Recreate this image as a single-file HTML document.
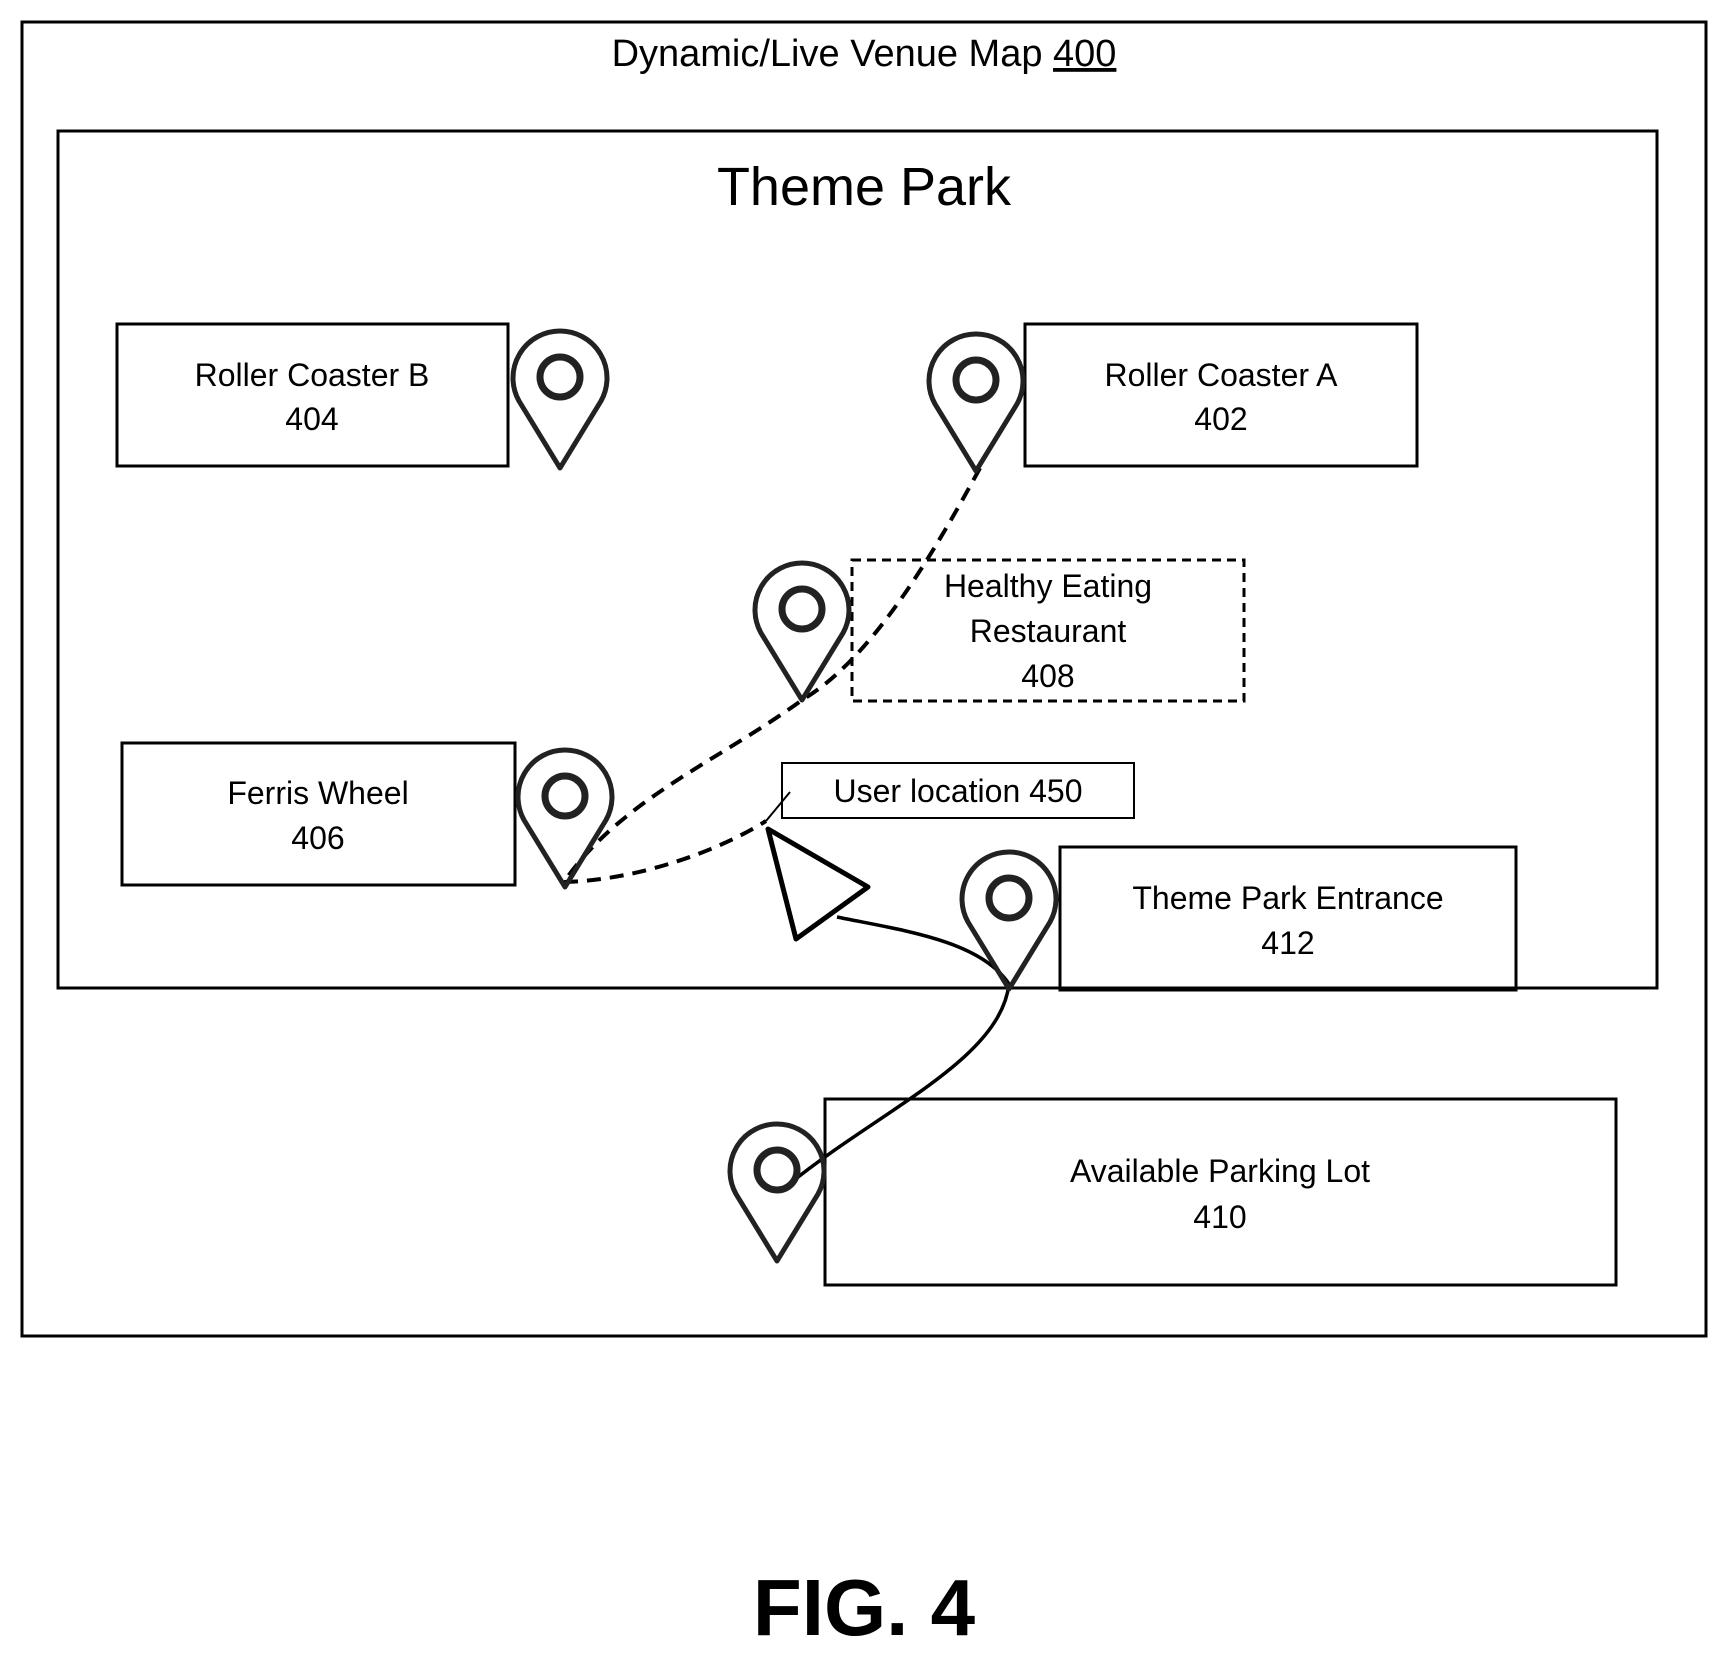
<!DOCTYPE html>
<html><head><meta charset="utf-8"><style>
body{margin:0;background:#fff;}
svg text{font-family:"Liberation Sans",sans-serif;fill:#000;}
</style></head><body>
<svg width="1728" height="1659" viewBox="0 0 1728 1659" xmlns="http://www.w3.org/2000/svg">
<defs>
<g id="pin">
<path d="M0,91 L-41,24 A47,47 0 1 1 41,24 Z" fill="none" stroke="#222" stroke-width="5" stroke-linejoin="round"/>
<circle cx="0" cy="0" r="20" fill="none" stroke="#222" stroke-width="7"/>
</g>
</defs>
<rect x="22" y="22" width="1684" height="1314" fill="none" stroke="#000" stroke-width="3"/>
<text x="864" y="66" font-size="38" text-anchor="middle">Dynamic/Live Venue Map <tspan text-decoration="underline">400</tspan></text>
<rect x="58" y="131" width="1599" height="857" fill="none" stroke="#000" stroke-width="3"/>
<text x="864" y="205" font-size="54" text-anchor="middle">Theme Park</text>

<g fill="none" stroke="#000" stroke-width="3">
<rect x="117" y="324" width="391" height="142"/>
<rect x="1025" y="324" width="392" height="142"/>
<rect x="852" y="560" width="392" height="141" stroke-dasharray="9,6"/>
<rect x="122" y="743" width="393" height="142"/>
<rect x="782" y="763" width="352" height="55" stroke-width="2"/>
<rect x="1060" y="847" width="456" height="143"/>
<rect x="825" y="1099" width="791" height="186"/>
</g>

<g font-size="32" text-anchor="middle">
<text x="312" y="386">Roller Coaster B</text><text x="312" y="430">404</text>
<text x="1221" y="386">Roller Coaster A</text><text x="1221" y="430">402</text>
<text x="1048" y="597">Healthy Eating</text><text x="1048" y="642">Restaurant</text><text x="1048" y="687">408</text>
<text x="318" y="804">Ferris Wheel</text><text x="318" y="849">406</text>
<text x="958" y="802">User location 450</text>
<text x="1288" y="909">Theme Park Entrance</text><text x="1288" y="954">412</text>
<text x="1220" y="1182">Available Parking Lot</text><text x="1220" y="1228">410</text>
</g>

<g fill="none" stroke="#000" stroke-width="4">
<path d="M980,468 C930,560 870,660 802,700 C720,760 620,800 564,882" stroke-dasharray="14,9"/>
<path d="M564,882 C640,880 720,850 766,821" stroke-dasharray="14,9"/>
<line x1="766" y1="821" x2="790" y2="792" stroke-width="2"/>
<path d="M837,917 C900,930 980,940 1009,984 C1000,1060 880,1110 788,1185" stroke-width="3.5"/>
<polygon points="768,829 868,887 796,939" stroke-width="5" stroke-linejoin="round"/>
</g>

<use href="#pin" x="560" y="377"/>
<use href="#pin" x="976" y="380"/>
<use href="#pin" x="802" y="609"/>
<use href="#pin" x="565" y="796"/>
<use href="#pin" x="1009" y="898"/>
<use href="#pin" x="777" y="1170"/>

<text x="864" y="1635" font-size="80" font-weight="bold" text-anchor="middle">FIG. 4</text>
</svg>
</body></html>
